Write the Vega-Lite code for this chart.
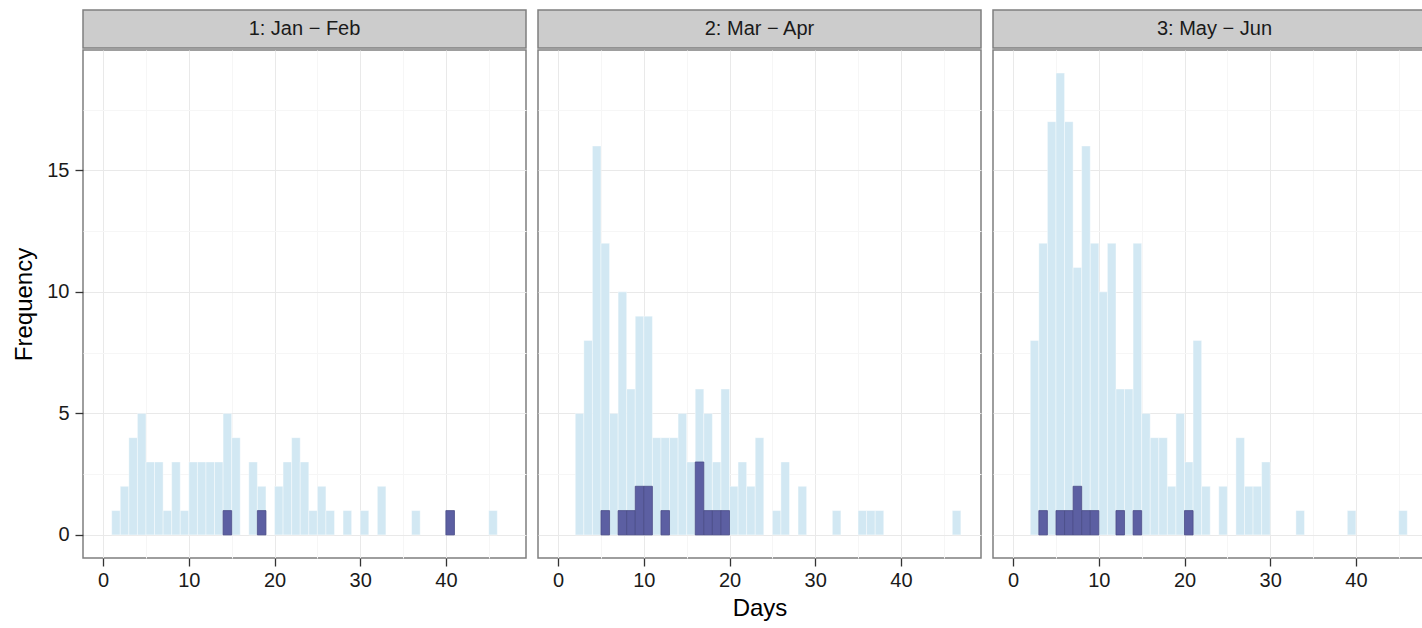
{
  "$schema": "https://vega.github.io/schema/vega-lite/v6.json",
  "background": "white",
  "padding": {"left": 12, "top": 9, "right": 0, "bottom": 0},
  "spacing": 10,
  "config": {
    "font": "Liberation Sans",
    "view": {"stroke": "#7f7f7f", "strokeWidth": 1.5},
    "axis": {
      "labelFont": "Liberation Sans", "labelFontSize": 20, "labelColor": "#1a1a1a",
      "titleFont": "Liberation Sans", "titleFontSize": 24, "titleFontWeight": "normal", "titleColor": "#000000",
      "tickColor": "#333333", "tickSize": 8, "tickWidth": 1.3, "domain": false,
      "gridColor": "#e9e9e9", "gridWidth": 1, "labelPadding": 4, "labelFlush": false
    }
  },
  "datasets": {
    "strips": [
      {"p": 1, "label": "1: Jan − Feb"},
      {"p": 2, "label": "2: Mar − Apr"},
      {"p": 3, "label": "3: May − Jun"}
    ],
    "bins": [
      {"p":1,"start":1,"end":2,"n":1,"dark":0},{"p":1,"start":2,"end":3,"n":2,"dark":0},{"p":1,"start":3,"end":4,"n":4,"dark":0},{"p":1,"start":4,"end":5,"n":5,"dark":0},{"p":1,"start":5,"end":6,"n":3,"dark":0},{"p":1,"start":6,"end":7,"n":3,"dark":0},{"p":1,"start":7,"end":8,"n":1,"dark":0},{"p":1,"start":8,"end":9,"n":3,"dark":0},{"p":1,"start":9,"end":10,"n":1,"dark":0},{"p":1,"start":10,"end":11,"n":3,"dark":0},{"p":1,"start":11,"end":12,"n":3,"dark":0},{"p":1,"start":12,"end":13,"n":3,"dark":0},{"p":1,"start":13,"end":14,"n":3,"dark":0},{"p":1,"start":14,"end":15,"n":5,"dark":1},{"p":1,"start":15,"end":16,"n":4,"dark":0},{"p":1,"start":17,"end":18,"n":3,"dark":0},{"p":1,"start":18,"end":19,"n":2,"dark":1},{"p":1,"start":20,"end":21,"n":2,"dark":0},{"p":1,"start":21,"end":22,"n":3,"dark":0},{"p":1,"start":22,"end":23,"n":4,"dark":0},{"p":1,"start":23,"end":24,"n":3,"dark":0},{"p":1,"start":24,"end":25,"n":1,"dark":0},{"p":1,"start":25,"end":26,"n":2,"dark":0},{"p":1,"start":26,"end":27,"n":1,"dark":0},{"p":1,"start":28,"end":29,"n":1,"dark":0},{"p":1,"start":30,"end":31,"n":1,"dark":0},{"p":1,"start":32,"end":33,"n":2,"dark":0},{"p":1,"start":36,"end":37,"n":1,"dark":0},{"p":1,"start":40,"end":41,"n":1,"dark":1},{"p":1,"start":45,"end":46,"n":1,"dark":0},
      {"p":2,"start":2,"end":3,"n":5,"dark":0},{"p":2,"start":3,"end":4,"n":8,"dark":0},{"p":2,"start":4,"end":5,"n":16,"dark":0},{"p":2,"start":5,"end":6,"n":12,"dark":1},{"p":2,"start":6,"end":7,"n":5,"dark":0},{"p":2,"start":7,"end":8,"n":10,"dark":1},{"p":2,"start":8,"end":9,"n":6,"dark":1},{"p":2,"start":9,"end":10,"n":9,"dark":2},{"p":2,"start":10,"end":11,"n":9,"dark":2},{"p":2,"start":11,"end":12,"n":4,"dark":0},{"p":2,"start":12,"end":13,"n":4,"dark":1},{"p":2,"start":13,"end":14,"n":4,"dark":0},{"p":2,"start":14,"end":15,"n":5,"dark":0},{"p":2,"start":15,"end":16,"n":3,"dark":0},{"p":2,"start":16,"end":17,"n":6,"dark":3},{"p":2,"start":17,"end":18,"n":5,"dark":1},{"p":2,"start":18,"end":19,"n":3,"dark":1},{"p":2,"start":19,"end":20,"n":6,"dark":1},{"p":2,"start":20,"end":21,"n":2,"dark":0},{"p":2,"start":21,"end":22,"n":3,"dark":0},{"p":2,"start":22,"end":23,"n":2,"dark":0},{"p":2,"start":23,"end":24,"n":4,"dark":0},{"p":2,"start":25,"end":26,"n":1,"dark":0},{"p":2,"start":26,"end":27,"n":3,"dark":0},{"p":2,"start":28,"end":29,"n":2,"dark":0},{"p":2,"start":32,"end":33,"n":1,"dark":0},{"p":2,"start":35,"end":36,"n":1,"dark":0},{"p":2,"start":36,"end":37,"n":1,"dark":0},{"p":2,"start":37,"end":38,"n":1,"dark":0},{"p":2,"start":46,"end":47,"n":1,"dark":0},
      {"p":3,"start":2,"end":3,"n":8,"dark":0},{"p":3,"start":3,"end":4,"n":12,"dark":1},{"p":3,"start":4,"end":5,"n":17,"dark":0},{"p":3,"start":5,"end":6,"n":19,"dark":1},{"p":3,"start":6,"end":7,"n":17,"dark":1},{"p":3,"start":7,"end":8,"n":11,"dark":2},{"p":3,"start":8,"end":9,"n":16,"dark":1},{"p":3,"start":9,"end":10,"n":12,"dark":1},{"p":3,"start":10,"end":11,"n":10,"dark":0},{"p":3,"start":11,"end":12,"n":12,"dark":0},{"p":3,"start":12,"end":13,"n":6,"dark":1},{"p":3,"start":13,"end":14,"n":6,"dark":0},{"p":3,"start":14,"end":15,"n":12,"dark":1},{"p":3,"start":15,"end":16,"n":5,"dark":0},{"p":3,"start":16,"end":17,"n":4,"dark":0},{"p":3,"start":17,"end":18,"n":4,"dark":0},{"p":3,"start":18,"end":19,"n":2,"dark":0},{"p":3,"start":19,"end":20,"n":5,"dark":0},{"p":3,"start":20,"end":21,"n":3,"dark":1},{"p":3,"start":21,"end":22,"n":8,"dark":0},{"p":3,"start":22,"end":23,"n":2,"dark":0},{"p":3,"start":24,"end":25,"n":2,"dark":0},{"p":3,"start":26,"end":27,"n":4,"dark":0},{"p":3,"start":27,"end":28,"n":2,"dark":0},{"p":3,"start":28,"end":29,"n":2,"dark":0},{"p":3,"start":29,"end":30,"n":3,"dark":0},{"p":3,"start":33,"end":34,"n":1,"dark":0},{"p":3,"start":39,"end":40,"n":1,"dark":0},{"p":3,"start":45,"end":46,"n":1,"dark":0}
    ]
  },
  "hconcat": [
    {
      "spacing": 0,
      "vconcat": [
        {
          "width": 443, "height": 38,
          "data": {"name": "strips"},
          "transform": [{"filter": "datum.p == 1"}],
          "view": {"fill": "#cccccc", "stroke": "#7f7f7f", "strokeWidth": 1.5},
          "mark": {"type": "text", "fontSize": 20, "font": "Liberation Sans", "color": "#1a1a1a"},
          "encoding": {"text": {"field": "label"}}
        },
        {
          "width": 443, "height": 508,
          "data": {"name": "bins"},
          "transform": [{"filter": "datum.p == 1"}],
          "resolve": {"axis": {"x": "independent", "y": "independent"}},
          "layer": [
            {
              "mark": {"type": "bar", "color": "#d2e8f3", "stroke": "#ffffff", "strokeOpacity": 0.5, "strokeWidth": 0.8},
              "encoding": {
                "x": {"field": "start", "type": "quantitative", "scale": {"domain": [-2.35, 49.35], "nice": false, "zero": false},
                      "axis": {"values": [0, 10, 20, 30, 40], "grid": true, "title": null}},
                "x2": {"field": "end"},
                "y": {"field": "n", "type": "quantitative", "scale": {"domain": [-0.95, 19.95], "nice": false, "zero": false},
                      "axis": {"values": [0, 5, 10, 15], "grid": true, "title": "Frequency", "labelPadding": 6, "titlePadding": 10}},
                "y2": {"datum": 0}
              }
            },
            {
              "transform": [{"filter": "datum.dark > 0"}],
              "mark": {"type": "bar", "color": "#5c5fa2", "stroke": "#4a4c88", "strokeWidth": 0.8},
              "encoding": {
                "x": {"field": "start", "type": "quantitative", "scale": {"domain": [-2.35, 49.35], "nice": false, "zero": false},
                      "axis": {"values": [5, 15, 25, 35, 45], "grid": true, "gridColor": "#f6f6f6", "labels": false, "ticks": false, "title": null}},
                "x2": {"field": "end"},
                "y": {"field": "dark", "type": "quantitative", "scale": {"domain": [-0.95, 19.95], "nice": false, "zero": false},
                      "axis": {"values": [2.5, 7.5, 12.5, 17.5], "grid": true, "gridColor": "#f6f6f6", "labels": false, "ticks": false, "title": null}},
                "y2": {"datum": 0}
              }
            }
          ]
        }
      ]
    },
    {
      "spacing": 0,
      "vconcat": [
        {
          "width": 443, "height": 38,
          "data": {"name": "strips"},
          "transform": [{"filter": "datum.p == 2"}],
          "view": {"fill": "#cccccc", "stroke": "#7f7f7f", "strokeWidth": 1.5},
          "mark": {"type": "text", "fontSize": 20, "font": "Liberation Sans", "color": "#1a1a1a"},
          "encoding": {"text": {"field": "label"}}
        },
        {
          "width": 443, "height": 508,
          "data": {"name": "bins"},
          "transform": [{"filter": "datum.p == 2"}],
          "resolve": {"axis": {"x": "independent", "y": "independent"}},
          "layer": [
            {
              "mark": {"type": "bar", "color": "#d2e8f3", "stroke": "#ffffff", "strokeOpacity": 0.5, "strokeWidth": 0.8},
              "encoding": {
                "x": {"field": "start", "type": "quantitative", "scale": {"domain": [-2.35, 49.35], "nice": false, "zero": false},
                      "axis": {"values": [0, 10, 20, 30, 40], "grid": true, "title": "Days", "titlePadding": 6}},
                "x2": {"field": "end"},
                "y": {"field": "n", "type": "quantitative", "scale": {"domain": [-0.95, 19.95], "nice": false, "zero": false},
                      "axis": {"values": [0, 5, 10, 15], "grid": true, "labels": false, "ticks": false, "title": null}},
                "y2": {"datum": 0}
              }
            },
            {
              "transform": [{"filter": "datum.dark > 0"}],
              "mark": {"type": "bar", "color": "#5c5fa2", "stroke": "#4a4c88", "strokeWidth": 0.8},
              "encoding": {
                "x": {"field": "start", "type": "quantitative", "scale": {"domain": [-2.35, 49.35], "nice": false, "zero": false},
                      "axis": {"values": [5, 15, 25, 35, 45], "grid": true, "gridColor": "#f6f6f6", "labels": false, "ticks": false, "title": null}},
                "x2": {"field": "end"},
                "y": {"field": "dark", "type": "quantitative", "scale": {"domain": [-0.95, 19.95], "nice": false, "zero": false},
                      "axis": {"values": [2.5, 7.5, 12.5, 17.5], "grid": true, "gridColor": "#f6f6f6", "labels": false, "ticks": false, "title": null}},
                "y2": {"datum": 0}
              }
            }
          ]
        }
      ]
    },
    {
      "spacing": 0,
      "vconcat": [
        {
          "width": 443, "height": 38,
          "data": {"name": "strips"},
          "transform": [{"filter": "datum.p == 3"}],
          "view": {"fill": "#cccccc", "stroke": "#7f7f7f", "strokeWidth": 1.5},
          "mark": {"type": "text", "fontSize": 20, "font": "Liberation Sans", "color": "#1a1a1a"},
          "encoding": {"text": {"field": "label"}}
        },
        {
          "width": 443, "height": 508,
          "data": {"name": "bins"},
          "transform": [{"filter": "datum.p == 3"}],
          "resolve": {"axis": {"x": "independent", "y": "independent"}},
          "layer": [
            {
              "mark": {"type": "bar", "color": "#d2e8f3", "stroke": "#ffffff", "strokeOpacity": 0.5, "strokeWidth": 0.8},
              "encoding": {
                "x": {"field": "start", "type": "quantitative", "scale": {"domain": [-2.35, 49.35], "nice": false, "zero": false},
                      "axis": {"values": [0, 10, 20, 30, 40], "grid": true, "title": null}},
                "x2": {"field": "end"},
                "y": {"field": "n", "type": "quantitative", "scale": {"domain": [-0.95, 19.95], "nice": false, "zero": false},
                      "axis": {"values": [0, 5, 10, 15], "grid": true, "labels": false, "ticks": false, "title": null}},
                "y2": {"datum": 0}
              }
            },
            {
              "transform": [{"filter": "datum.dark > 0"}],
              "mark": {"type": "bar", "color": "#5c5fa2", "stroke": "#4a4c88", "strokeWidth": 0.8},
              "encoding": {
                "x": {"field": "start", "type": "quantitative", "scale": {"domain": [-2.35, 49.35], "nice": false, "zero": false},
                      "axis": {"values": [5, 15, 25, 35, 45], "grid": true, "gridColor": "#f6f6f6", "labels": false, "ticks": false, "title": null}},
                "x2": {"field": "end"},
                "y": {"field": "dark", "type": "quantitative", "scale": {"domain": [-0.95, 19.95], "nice": false, "zero": false},
                      "axis": {"values": [2.5, 7.5, 12.5, 17.5], "grid": true, "gridColor": "#f6f6f6", "labels": false, "ticks": false, "title": null}},
                "y2": {"datum": 0}
              }
            }
          ]
        }
      ]
    }
  ]
}
